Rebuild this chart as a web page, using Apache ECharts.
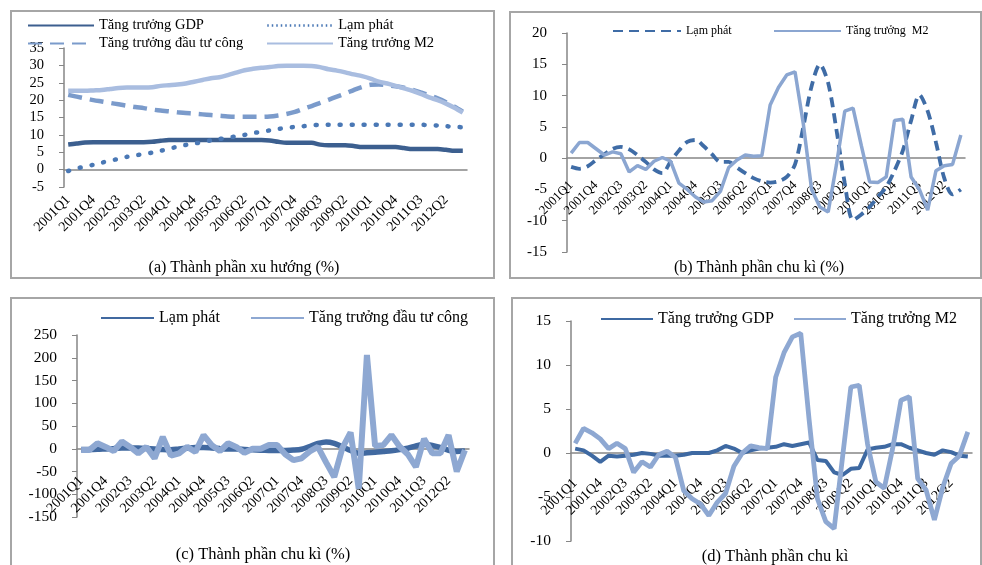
<!DOCTYPE html>
<html>
<head>
<meta charset="utf-8">
<script src="https://cdn.jsdelivr.net/npm/echarts/dist/echarts.min.js"></script>
<style>
  html, body { margin: 0; padding: 0; background: #fff; }
  #chart { width: 982px; height: 565px; }
</style>
</head>
<body>
<div id="chart"></div>
<script>
const quarters = [
  '2001Q1','2001Q2','2001Q3','2001Q4','2002Q1','2002Q2','2002Q3','2002Q4',
  '2003Q1','2003Q2','2003Q3','2003Q4','2004Q1','2004Q2','2004Q3','2004Q4',
  '2005Q1','2005Q2','2005Q3','2005Q4','2006Q1','2006Q2','2006Q3','2006Q4',
  '2007Q1','2007Q2','2007Q3','2007Q4','2008Q1','2008Q2','2008Q3','2008Q4',
  '2009Q1','2009Q2','2009Q3','2009Q4','2010Q1','2010Q2','2010Q3','2010Q4',
  '2011Q1','2011Q2','2011Q3','2011Q4','2012Q1','2012Q2','2012Q3','2012Q4'
];

// (a) trend components
const gdpTrend = [7.2,7.5,7.8,7.9,7.9,7.9,7.9,7.9,7.9,7.9,8.0,8.3,8.5,8.5,8.5,8.5,8.5,8.5,8.5,8.5,8.5,8.5,8.5,8.5,8.4,8.0,7.7,7.7,7.7,7.7,7.2,7.0,7.0,7.0,6.8,6.5,6.5,6.5,6.5,6.5,6.2,5.9,5.9,5.9,5.9,5.7,5.4,5.4];
const inflTrend = [-0.4,0.3,0.9,1.4,2.0,2.6,3.1,3.7,4.1,4.5,4.9,5.4,6.0,6.6,7.1,7.5,7.9,8.4,8.8,9.2,9.6,10.0,10.5,10.9,11.3,11.7,12.0,12.3,12.5,12.7,12.9,12.9,12.9,12.9,12.9,12.9,12.9,12.9,12.9,12.9,12.9,12.9,12.9,12.8,12.7,12.5,12.3,12.2];
const invTrend = [21.5,21.0,20.5,20.0,19.6,19.2,18.8,18.4,18.0,17.7,17.3,17.0,16.8,16.5,16.3,16.1,15.9,15.7,15.5,15.3,15.2,15.2,15.2,15.2,15.3,15.6,16.0,16.6,17.5,18.3,19.2,20.1,21.0,21.9,22.9,23.8,24.4,24.5,24.3,24.0,23.6,23.0,22.2,21.4,20.5,19.4,18.1,16.7];
const m2Trend = [22.7,22.7,22.7,22.8,22.9,23.2,23.5,23.6,23.6,23.6,23.7,24.1,24.3,24.5,24.8,25.3,25.8,26.3,26.6,27.2,27.9,28.6,29.0,29.3,29.5,29.8,29.9,29.9,29.9,29.8,29.5,28.9,28.5,28.0,27.4,26.9,26.2,25.3,24.8,24.1,23.4,22.7,21.8,20.8,20.0,19.0,17.8,16.4];

// (b), (c), (d) cyclical components
const inflCycle = [-1.4,-1.7,-1.3,-0.3,0.6,1.5,1.8,1.4,0.5,-0.6,-1.8,-2.4,-0.5,1.2,2.6,2.9,1.9,0.6,-0.6,-0.6,-1.5,-2.4,-3.2,-3.7,-3.9,-3.7,-3.0,-1.0,5.0,11.5,15.0,12.0,4.5,-4.0,-9.9,-9.0,-7.8,-6.2,-4.6,-2.0,1.2,6.0,10.1,7.5,2.5,-3.2,-5.8,-5.0];
const m2CycleB = [0.8,2.5,2.5,1.5,0.5,1.0,0.7,-2.2,-1.2,-1.8,-0.5,0.1,-0.5,-4.0,-5.0,-6.2,-7.0,-6.8,-5.3,-1.5,-0.3,0.5,0.3,0.4,8.5,11.3,13.3,13.8,5.5,-5.0,-7.8,-8.6,-1.0,7.5,8.0,2.0,-3.8,-3.9,-3.0,6.0,6.2,-3.0,-5.0,-8.3,-2.0,-1.2,-1.0,3.7];
const invCycle = [-3,-3,12,4,-5,16,4,-10,4,-21,26,-15,-10,4,-7,30,8,-5,12,4,-9,0,0,8,8,-12,-25,-21,-6,4,-30,-62,2,36,-88,206,6,8,30,5,-12,-40,22,-10,-10,30,-50,-3];
const gdpCycle = [0.5,0.3,-0.3,-1.0,-0.3,-0.4,-0.3,-0.2,0.0,-0.1,-0.3,-0.3,-0.3,-0.2,0.0,0.0,0.0,0.3,0.8,0.5,0.0,0.3,0.5,0.6,0.7,1.0,0.8,1.0,1.2,-0.8,-0.9,-2.2,-2.5,-1.8,-1.7,0.4,0.6,0.7,1.0,1.0,0.6,0.3,0.0,-0.2,0.3,0.1,-0.3,-0.4];
const m2CycleD = [1.1,2.8,2.3,1.6,0.5,1.1,0.5,-2.2,-1.0,-1.6,-0.2,0.2,-0.5,-4.3,-5.2,-5.8,-7.1,-5.6,-4.6,-1.5,0.0,0.8,0.6,0.5,8.6,11.4,13.2,13.6,3.8,-5.2,-7.8,-8.6,-0.5,7.5,7.7,1.0,-3.3,-4.0,0.5,6.0,6.4,-2.9,-4.2,-7.6,-3.9,-1.2,-0.3,2.4];

const font = 'Liberation Serif';
const axisGray = '#868686';

// plot areas; the label strips sit right above each zero line
const panels = [
  { left: 64, top: 48, width: 403, height: 139, min: -5, max: 35, step: 5, ySize: 14.5, xSize: 14, margin: 28 },
  { left: 567, top: 33, width: 398, height: 219, min: -15, max: 20, step: 5, ySize: 15, xSize: 13, margin: 25 },
  { left: 77, top: 335, width: 392, height: 182, min: -150, max: 250, step: 50, ySize: 15.5, xSize: 14, margin: 30 },
  { left: 571, top: 321, width: 401, height: 220, min: -10, max: 15, step: 5, ySize: 15.5, xSize: 14, margin: 28 }
];

const grids = [];
const xAxes = [];
const yAxes = [];

panels.forEach((p, i) => {
  grids.push({ left: p.left, top: p.top, width: p.width, height: p.height });
  xAxes.push({
    type: 'category', gridIndex: i, data: quarters, boundaryGap: true,
    axisLine: { onZero: true, lineStyle: { color: axisGray, width: 1.5 } },
    axisTick: { interval: 0, length: 5, lineStyle: { color: axisGray } },
    axisLabel: { show: false }
  });
  yAxes.push({
    type: 'value', gridIndex: i, min: p.min, max: p.max, interval: p.step,
    axisLine: { show: true, lineStyle: { color: axisGray, width: 1.5 } },
    axisTick: { show: true, length: 5, lineStyle: { color: axisGray } },
    splitLine: { show: false },
    axisLabel: { margin: 20, color: '#000', fontFamily: font, fontSize: p.ySize }
  });
});

panels.forEach((p, i) => {
  const zeroY = p.top + p.height * p.max / (p.max - p.min);
  grids.push({ left: p.left, top: zeroY - 20, width: p.width, height: 20 });
  xAxes.push({
    type: 'category', gridIndex: 4 + i, data: quarters, boundaryGap: true, position: 'bottom',
    axisLine: { show: false }, axisTick: { show: false },
    axisLabel: { interval: 2, rotate: 45, margin: p.margin, color: '#000', fontFamily: font, fontSize: p.xSize, hideOverlap: false }
  });
  yAxes.push({ type: 'value', gridIndex: 4 + i, show: false });
});

function makeLegend(name, left, top, w, size, lineStyle) {
  const lg = {
    data: [name], left: left, top: top, padding: 0, itemWidth: w, itemHeight: 14,
    selectedMode: false,
    itemStyle: { opacity: 0, borderWidth: 0 },
    formatter: n => n.split('#')[0],
    textStyle: { fontFamily: font, fontSize: size, color: '#000' }
  };
  if (lineStyle) lg.lineStyle = lineStyle;
  return lg;
}

function line(name, grid, data, color, width, type, smooth) {
  return {
    name: name, type: 'line', xAxisIndex: grid, yAxisIndex: grid, data: data,
    symbol: 'none', smooth: smooth || false,
    lineStyle: { color: color, width: width, type: type || 'solid', cap: type && type[0] === 1 ? 'round' : 'butt' },
    itemStyle: { color: color }
  };
}

const chart = echarts.init(document.getElementById('chart'));

const option = {
  animation: false,
  backgroundColor: '#fff',
  grid: grids,
  xAxis: xAxes,
  yAxis: yAxes,
  legend: [
    makeLegend('Tăng trưởng GDP#a', 27, 18, 66, 14.5),
    makeLegend('Lạm phát#a', 266, 18, 66, 14.5, { type: [1.5, 3], width: 2.5, cap: 'butt' }),
    makeLegend('Tăng trưởng đầu tư công#a', 27, 36, 66, 14.5),
    makeLegend('Tăng trưởng M2#a', 266, 36, 66, 14.5),
    makeLegend('Lạm phát#b', 612, 25, 68, 12),
    makeLegend('Tăng trưởng  M2#b', 773, 25, 67, 12),
    makeLegend('Lạm phát#c', 100, 310, 53, 16),
    makeLegend('Tăng trưởng đầu tư công#c', 250, 310, 53, 16),
    makeLegend('Tăng trưởng GDP#d', 600, 311, 52, 16),
    makeLegend('Tăng trưởng M2#d', 793, 311, 52, 16)
  ],
  series: [
    line('Tăng trưởng GDP#a', 0, gdpTrend, '#3c5f8f', 4.5, 'solid', 0.3),
    line('Lạm phát#a', 0, inflTrend, '#4a78b5', 4.5, [1, 11], 0.3),
    line('Tăng trưởng đầu tư công#a', 0, invTrend, '#7b9bcb', 4.5, [14, 8], 0.3),
    line('Tăng trưởng M2#a', 0, m2Trend, '#a9bde0', 4.5, 'solid', 0.3),
    line('Lạm phát#b', 1, inflCycle, '#3f6ca6', 3.8, [10, 6], 0.3),
    line('Tăng trưởng  M2#b', 1, m2CycleB, '#8ba6d1', 3.5),
    line('Lạm phát#c', 2, inflCycle, '#4169a0', 5.5, 'solid', 0.3),
    line('Tăng trưởng đầu tư công#c', 2, invCycle, '#8ea8d2', 6),
    line('Tăng trưởng GDP#d', 3, gdpCycle, '#3e69a2', 4),
    line('Tăng trưởng M2#d', 3, m2CycleD, '#8ea8d2', 4.8)
  ],
  graphic: [
    { type: 'rect', shape: { x: 11, y: 11, width: 483, height: 267 }, style: { fill: 'none', stroke: '#a6a6a6', lineWidth: 2 } },
    { type: 'rect', shape: { x: 510, y: 12, width: 471, height: 266 }, style: { fill: 'none', stroke: '#a6a6a6', lineWidth: 2 } },
    { type: 'rect', shape: { x: 11, y: 298, width: 483, height: 280 }, style: { fill: 'none', stroke: '#a6a6a6', lineWidth: 2 } },
    { type: 'rect', shape: { x: 512, y: 298, width: 469, height: 280 }, style: { fill: 'none', stroke: '#a6a6a6', lineWidth: 2 } },
    { type: 'text', x: 244, y: 268, style: { text: '(a) Thành phần xu hướng (%)', font: '16px "Liberation Serif"', fill: '#000', align: 'center', verticalAlign: 'middle' } },
    { type: 'text', x: 759, y: 268, style: { text: '(b) Thành phần chu kì (%)', font: '16px "Liberation Serif"', fill: '#000', align: 'center', verticalAlign: 'middle' } },
    { type: 'text', x: 263, y: 555, style: { text: '(c) Thành phần chu kì (%)', font: '16.5px "Liberation Serif"', fill: '#000', align: 'center', verticalAlign: 'middle' } },
    { type: 'text', x: 775, y: 557, style: { text: '(d) Thành phần chu kì', font: '16.5px "Liberation Serif"', fill: '#000', align: 'center', verticalAlign: 'middle' } }
  ]
};

chart.setOption(option);
</script>
</body>
</html>
